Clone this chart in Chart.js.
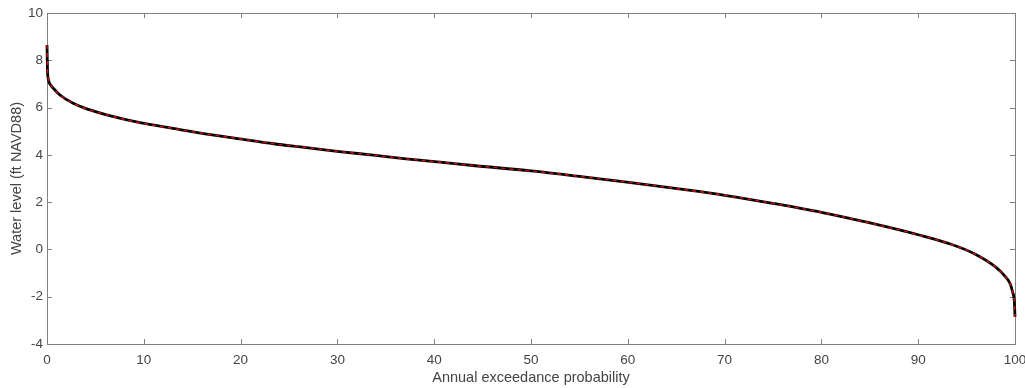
<!DOCTYPE html>
<html lang="en">
<head>
  <meta charset="UTF-8">
  <title>Water level exceedance</title>
  <script src="https://cdn.jsdelivr.net/npm/chart.js"></script>
  <style>
    html, body { margin: 0; padding: 0; background: #fff; }
    #wrap { width: 1025px; height: 388px; }
  </style>
</head>
<body>
  <div id="wrap"><canvas id="myChart" width="1025" height="388"></canvas></div>

  <script>
    // exceedance probability (%) and water level (ft NAVD88)
    var probability = [0, 0.05, 0.14, 0.25, 0.4, 0.65, 1.34, 2.7, 4.44, 6.16, 9.6, 13, 16.5, 19.9, 23.4, 26.8, 30.2, 33.7, 37.1, 40.6, 44,
                       50, 55.4, 59.9, 65.1, 70, 75.1, 80, 84.8, 90, 93.4, 95.9, 97.95, 99, 99.5, 99.75, 99.93, 100];
    var waterLevel  = [8.65, 7.6, 7.2, 7.04, 6.94, 6.82, 6.53, 6.18, 5.9, 5.69, 5.36, 5.12, 4.88, 4.68, 4.47, 4.31, 4.14, 3.99, 3.83, 3.69, 3.55,
                       3.32, 3.07, 2.85, 2.57, 2.29, 1.94, 1.57, 1.14, 0.62, 0.22, -0.2, -0.73, -1.15, -1.45, -1.8, -2.2, -2.85];

    var xTicks = [0, 100, 10];   // min, max, step
    var yTicks = [-4, 10, 2];

    function toPoints() {
      return probability.map(function (p, i) { return { x: p, y: waterLevel[i] }; });
    }

    var tickFont = { family: 'Liberation Sans, Arial, sans-serif', size: 13.5 };
    var titleFont = { family: 'Liberation Sans, Arial, sans-serif', size: 14.5 };
    var textColor = '#444444';
    var axisColor = '#808080';

    // MATLAB-like box with inward ticks on all four sides
    var boxPlugin = {
      id: 'box',
      beforeDatasetsDraw: function (chart) {
        var ctx = chart.ctx, a = chart.chartArea;
        var xs = chart.scales.x, ys = chart.scales.y;
        var len = 5;
        ctx.save();
        ctx.strokeStyle = axisColor;
        ctx.lineWidth = 1;
        ctx.strokeRect(a.left + 0.5, a.top + 0.5, a.right - a.left, a.bottom - a.top);
        ctx.beginPath();
        xs.ticks.forEach(function (t) {
          var px = Math.round(xs.getPixelForValue(t.value)) + 0.5;
          ctx.moveTo(px, a.bottom); ctx.lineTo(px, a.bottom - len);
          ctx.moveTo(px, a.top); ctx.lineTo(px, a.top + len);
        });
        ys.ticks.forEach(function (t) {
          var py = Math.round(ys.getPixelForValue(t.value)) + 0.5;
          ctx.moveTo(a.left, py); ctx.lineTo(a.left + len, py);
          ctx.moveTo(a.right, py); ctx.lineTo(a.right - len, py);
        });
        ctx.stroke();
        ctx.restore();
      }
    };

    var ctx = document.getElementById('myChart').getContext('2d');
    var myChart = new Chart(ctx, {
      type: 'line',
      data: {
        datasets: [{
          // red dashed on top (first dataset is drawn last)
          data: toPoints(),
          borderColor: '#c81414',
          borderWidth: 1.4,
          borderDash: [4, 4],
          pointRadius: 0,
          cubicInterpolationMode: 'monotone',
          clip: 6
        }, {
          data: toPoints(),
          borderColor: '#000000',
          borderWidth: 2.8,
          pointRadius: 0,
          cubicInterpolationMode: 'monotone',
          clip: 6
        }]
      },
      options: {
        responsive: false,
        animation: false,
        events: [],
        layout: { padding: { top: 13, right: 10, left: 0, bottom: 0 } },
        plugins: { legend: { display: false }, tooltip: { enabled: false } },
        scales: {
          x: {
            type: 'linear',
            min: xTicks[0], max: xTicks[1],
            border: { display: false },
            grid: { display: false, drawTicks: false },
            ticks: { stepSize: xTicks[2], maxRotation: 0, color: textColor, font: tickFont, padding: 8 },
            title: { display: true, text: 'Annual exceedance probability', color: textColor, font: titleFont, padding: { top: 0, bottom: 1.5 } },
            afterFit: function (s) { s.height = 44; s.paddingLeft = 0; s.paddingRight = 0; }
          },
          y: {
            type: 'linear',
            min: yTicks[0], max: yTicks[1],
            border: { display: false },
            grid: { display: false, drawTicks: false },
            ticks: { stepSize: yTicks[2], color: textColor, font: tickFont, padding: 4 },
            title: { display: true, text: 'Water level (ft NAVD88)', color: textColor, font: titleFont, padding: { top: 8.5, bottom: 0 } },
            afterFit: function (s) { s.width = 47; s.paddingTop = 0; s.paddingBottom = 0; }
          }
        }
      },
      plugins: [boxPlugin]
    });
  </script>
</body>
</html>
